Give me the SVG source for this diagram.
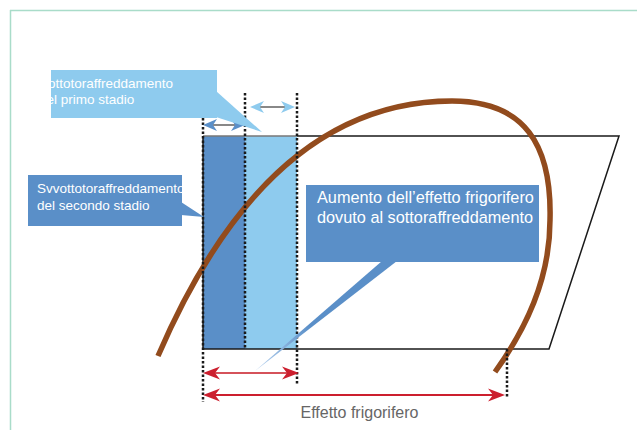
<svg xmlns="http://www.w3.org/2000/svg" width="637" height="430" viewBox="0 0 637 430">
  <style>
    .dot { stroke: #1a1a1a; stroke-width: 2.5; stroke-dasharray: 2.5 2; fill: none; }
    .lbl { font-family: "Liberation Sans", Arial, sans-serif; fill: #ffffff; }
    .dark { fill: #5a8fc8; }
    .light { fill: #8ecbee; }
    .frame { stroke: #a9dcc9; stroke-width: 1.5; fill: none; }
  </style>
  <defs>
    <marker id="mRed" viewBox="-12 -9 24 18" markerWidth="24" markerHeight="18" refX="0" refY="0" orient="auto-start-reverse" markerUnits="userSpaceOnUse">
      <path d="M8,0 L-9,-6.5 L-4,0 L-9,6.5 Z" fill="#cc1f2e"/>
    </marker>
    <marker id="mDark" viewBox="-12 -9 24 18" markerWidth="24" markerHeight="18" refX="0" refY="0" orient="auto-start-reverse" markerUnits="userSpaceOnUse">
      <path d="M6,0 L-8,-6 L-4,0 L-8,6 Z" fill="#5a8fc8"/>
    </marker>
    <marker id="mLight" viewBox="-12 -9 24 18" markerWidth="24" markerHeight="18" refX="0" refY="0" orient="auto-start-reverse" markerUnits="userSpaceOnUse">
      <path d="M6,0 L-8,-6 L-4,0 L-8,6 Z" fill="#8ecbee"/>
    </marker>
    <linearGradient id="tailGrad" gradientUnits="userSpaceOnUse" x1="397" y1="262" x2="255" y2="371">
      <stop offset="0" stop-color="#5a8fc8"/>
      <stop offset="0.6" stop-color="#5a8fc8"/>
      <stop offset="1" stop-color="#b9d3f0"/>
    </linearGradient>
    <clipPath id="clip1"><rect x="51" y="70" width="166" height="48"/></clipPath>
    <clipPath id="clip2"><rect x="28" y="175" width="154" height="51"/></clipPath>
  </defs>

  <!-- frame -->
  <line class="frame" x1="10.5" y1="10" x2="10.5" y2="430"/>
  <line class="frame" x1="10" y1="10.5" x2="637" y2="10.5"/>

  <!-- subcooling areas -->
  <g id="area-second-stage">
    <rect class="dark" x="203" y="136" width="42" height="213"/>
  </g>
  <g id="area-first-stage">
    <rect class="light" x="245" y="136" width="52" height="213"/>
  </g>

  <!-- cycle outline -->
  <g id="cycle-outline">
    <polyline points="297,136 619,136 549,349 203,349 203,136" fill="none" stroke="#1a1a1a" stroke-width="1.5"/>
    <line x1="203" y1="136" x2="297" y2="136" stroke="#777777" stroke-width="1.5"/>
  </g>

  <!-- saturation dome -->
  <g id="dome">
    <path d="M158,356 C225,200 320,101 452,101 C525,101 552,145 550,220 C550,280 525,330 495,372" fill="none" stroke="#924b1d" stroke-width="5.5"/>
  </g>

  <!-- connectors: dotted guides and dimension arrows -->
  <g id="connectors">
    <line class="dot" x1="203" y1="118" x2="203" y2="402"/>
    <line class="dot" x1="245" y1="93" x2="245" y2="349"/>
    <line class="dot" x1="297" y1="93" x2="297" y2="384"/>
    <line class="dot" x1="507" y1="349" x2="507" y2="398"/>

    <line x1="209" y1="125" x2="239" y2="125" stroke="#888888" stroke-width="2" marker-start="url(#mDark)" marker-end="url(#mDark)"/>
    <line x1="256" y1="107" x2="289" y2="107" stroke="#888888" stroke-width="2" marker-start="url(#mLight)" marker-end="url(#mLight)"/>

    <line x1="211" y1="373" x2="291" y2="373" stroke="#d5525a" stroke-width="2" marker-start="url(#mRed)" marker-end="url(#mRed)"/>
    <line x1="211" y1="395" x2="497" y2="395" stroke="#cc1f2e" stroke-width="2" marker-start="url(#mRed)" marker-end="url(#mRed)"/>
  </g>

  <!-- callouts -->
  <g id="callout-first-stage">
    <rect class="light" x="51" y="70" width="166" height="48"/>
    <polygon class="light" points="216,91 262,132 216,117"/>
    <g clip-path="url(#clip1)">
      <text class="lbl" x="39" y="88" font-size="13.5">Sottotoraffreddamento</text>
      <text class="lbl" x="39" y="104" font-size="13.5">del primo stadio</text>
    </g>
  </g>

  <g id="callout-second-stage">
    <rect class="dark" x="28" y="175" width="154" height="51"/>
    <polygon class="dark" points="181,202 204,217 181,215"/>
    <g clip-path="url(#clip2)">
      <text class="lbl" x="37" y="192.5" font-size="13.5">Svvottotoraffreddamento</text>
      <text class="lbl" x="37" y="209.5" font-size="13.5">del secondo stadio</text>
    </g>
  </g>

  <g id="callout-increase">
    <rect class="dark" x="306" y="185" width="233" height="77"/>
    <polygon points="382,261 397,261 255,371" fill="url(#tailGrad)"/>
    <text class="lbl" x="317" y="203.3" font-size="16.3">Aumento dell’effetto frigorifero</text>
    <text class="lbl" x="317" y="223.3" font-size="16.3">dovuto al sottoraffreddamento</text>
  </g>

  <g id="label-effect">
    <text x="359.5" y="418" font-size="16" text-anchor="middle" font-family="Liberation Sans, Arial, sans-serif" fill="#666666">Effetto frigorifero</text>
  </g>
</svg>
